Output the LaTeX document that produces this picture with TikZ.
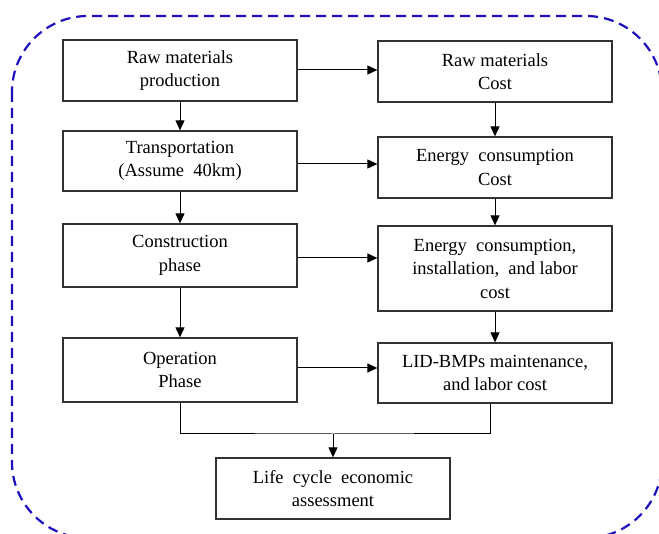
\documentclass[tikz,border=0pt]{standalone}
\usepackage{fontspec}
\setmainfont{Liberation Serif}
\usetikzlibrary{arrows.meta}
\definecolor{dashblue}{RGB}{28,16,190}
\definecolor{boxline}{RGB}{50,50,50}
\tikzset{
  box/.style={draw=boxline, line width=1.3pt, minimum width=234pt, align=center,
    inner sep=0pt, font=\fontsize{18.5}{23.5}\selectfont},
  arr/.style={line width=1pt, -{Triangle[length=10pt,width=9pt]}},
  conn/.style={line width=1pt},
}
\begin{document}
\begin{tikzpicture}[x=1pt,y=-1pt]
\useasboundingbox (0,0) rectangle (659,534);
\begin{scope}
\clip (0,0) rectangle (659,534);
\draw[dashblue, line width=2.2pt, dash pattern=on 10pt off 6pt, rounded corners=76pt]
  (12,16) rectangle (662,538);
\end{scope}
% left column
\node[box, minimum height=61pt] (A1) at (180,70.5) {Raw materials\\production};
\node[box, minimum height=60pt] (A2) at (180,161) {Transportation\\(Assume~~40km)};
\node[box, minimum height=63pt] (A3) at (180,255.5) {Construction\\phase};
\node[box, minimum height=64pt] (A4) at (180,370) {Operation\\Phase};
% right column
\node[box, minimum height=61pt] (B1) at (495,71.5) {Raw materials\\Cost};
\node[box, minimum height=61pt] (B2) at (495,167.5) {Energy~~consumption\\Cost};
\node[box, minimum height=85pt] (B3) at (495,268.5) {Energy~~consumption,\\installation,~~and labor\\cost};
\node[box, minimum height=60pt] (B4) at (495,373) {LID-BMPs maintenance,\\and labor cost};
% bottom
\node[box, minimum height=61pt] (C) at (333,488.5) {Life~~cycle~~economic\\assessment};
\coordinate (M) at (333,434);
% vertical arrows
\draw[arr] (A1.south) -- (A2.north);
\draw[arr] (A2.south) -- (A3.north);
\draw[arr] (A3.south) -- (A4.north);
\draw[arr] (B1.south) -- (B2.north);
\draw[arr] (B2.south) -- (B3.north);
\draw[arr] (B3.south) -- (B4.north);
% horizontal arrows
\draw[arr] ([yshift=0.5pt]A1.east) -- ([yshift=0.5pt]A1.east -| B1.west);
\draw[arr] ([yshift=-3pt]A2.east) -- ([yshift=-3pt]A2.east -| B2.west);
\draw[arr] ([yshift=-2.5pt]A3.east) -- ([yshift=-2.5pt]A3.east -| B3.west);
\draw[arr] ([yshift=2pt]A4.east) -- ([yshift=2pt]A4.east -| B4.west);
% merge to bottom
\draw[conn] (A4.south) |- (M) -| ([xshift=-5pt]B4.south);
\draw[arr] (M) -- (C.north);
\end{tikzpicture}
\end{document}
